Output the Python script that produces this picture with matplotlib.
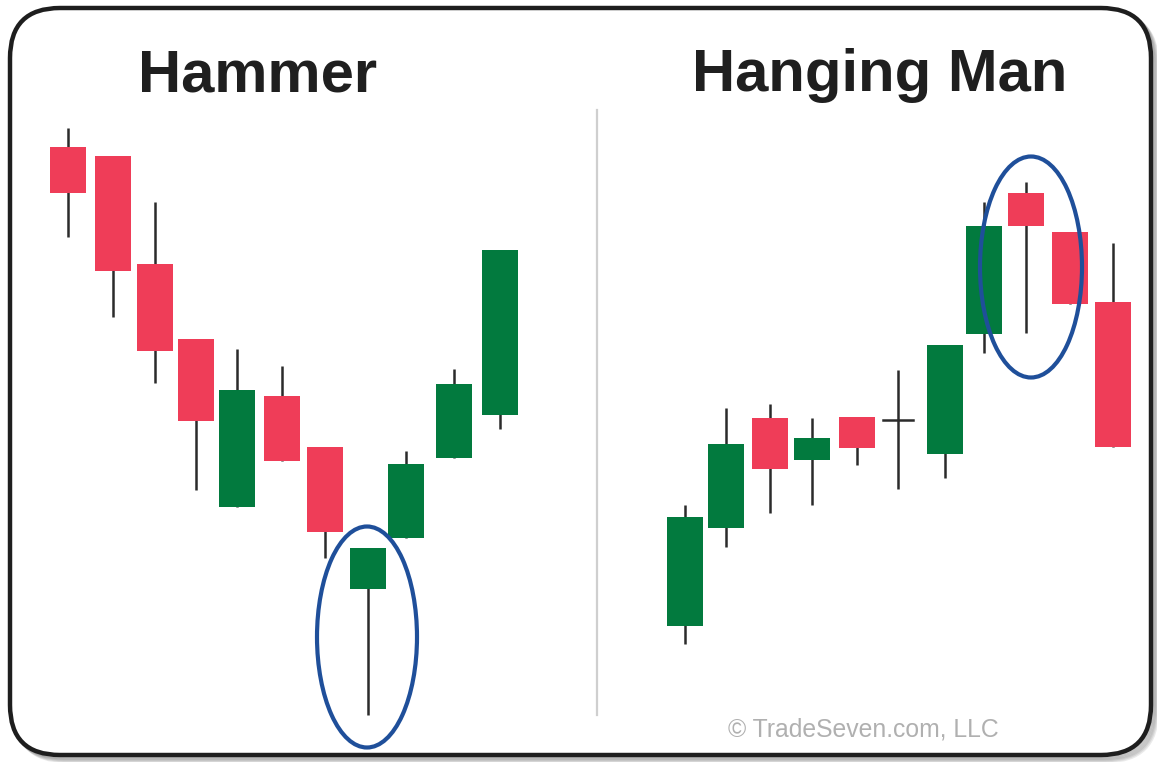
import numpy as np
import matplotlib.pyplot as plt
from matplotlib.patches import FancyBboxPatch, Ellipse, Rectangle

# candle data (price units)
hammer_x = [68, 113, 155, 196, 237, 282, 325, 368, 406, 454, 500]
hammer_open = [653, 644, 536, 461, 293, 404, 353, 211, 262, 342, 385]
hammer_close = [607, 529, 449, 379, 410, 339, 268, 252, 336, 416, 550]
hammer_high = [672, 644, 598, 461, 451, 434, 353, 252, 349, 431, 550]
hammer_low = [563, 483, 417, 310, 293, 339, 242, 85, 262, 342, 371]

hang_x = [685, 726, 770, 812, 857, 898, 945, 984, 1026, 1070, 1113]
hang_open = [174, 272, 382, 340, 383, 380, 346, 466, 607, 568, 498]
hang_close = [283, 356, 331, 362, 352, 380, 455, 574, 574, 496, 353]
hang_high = [295, 392, 396, 382, 383, 430, 455, 598, 618, 568, 557]
hang_low = [156, 253, 287, 295, 335, 311, 322, 447, 467, 496, 353]

titles = ["Hammer", "Hanging Man"]
credit = "\u00a9 TradeSeven.com, LLC"

RED = '#ef3d58'
GREEN = '#027a3e'
BLUE = '#1f4f9a'
WICK = '#2b2b2b'

fig = plt.figure(figsize=(11.57, 7.62), dpi=100)
ax = fig.add_axes([0, 0, 1, 1])
ax.set_xlim(0, 1157)
ax.set_ylim(38, 800)
ax.axis('off')

# frame with a soft shadow at the bottom right
for k in range(6, 0, -1):
    sh = FancyBboxPatch((10 + k, 45 - k), 1141, 747,
                        boxstyle="round,pad=0,rounding_size=50",
                        fc='none', ec='#555555', lw=3, alpha=0.12, zorder=1)
    ax.add_patch(sh)
frame = FancyBboxPatch((10, 45), 1141, 747,
                       boxstyle="round,pad=0,rounding_size=50",
                       fc='white', ec='#1e1e1e', lw=3.2, zorder=2)
ax.add_patch(frame)

# divider
ax.plot([597, 597], [800 - 715, 800 - 110], color='#cfcfcf', lw=1.6, zorder=3)


def candles(xs, o, c, h, l):
    w = 36
    for x, op, cl, hi, lo in zip(xs, o, c, h, l):
        ax.plot([x, x], [lo, hi], color=WICK, lw=1.8, zorder=4, solid_capstyle='butt')
        if op == cl:
            ax.plot([x - 15, x + 15], [op, op], color=WICK, lw=1.8, zorder=5)
            continue
        col = GREEN if cl > op else RED
        ax.add_patch(Rectangle((x - w / 2, min(op, cl)), w, abs(cl - op),
                               fc=col, ec='none', zorder=5))


candles(hammer_x, hammer_open, hammer_close, hammer_high, hammer_low)
candles(hang_x, hang_open, hang_close, hang_high, hang_low)

ax.add_patch(Ellipse((367, 163), 100, 221, fc='none', ec=BLUE, lw=3, zorder=6))
ax.add_patch(Ellipse((1031, 533), 102, 221, fc='none', ec=BLUE, lw=3, zorder=6))

ax.text(258, 800 - 91, titles[0], fontsize=43, fontweight='bold',
        family='Liberation Sans', color='#1f1f1f', ha='center', va='baseline', zorder=7)
ax.text(880, 800 - 91, titles[1], fontsize=43, fontweight='bold',
        family='Liberation Sans', color='#1f1f1f', ha='center', va='baseline', zorder=7)
ax.text(863, 800 - 737, credit, fontsize=17.8, family='Liberation Sans',
        color='#b0b0b0', ha='center', va='baseline', zorder=7)

fig.savefig('out.png', dpi=100)
